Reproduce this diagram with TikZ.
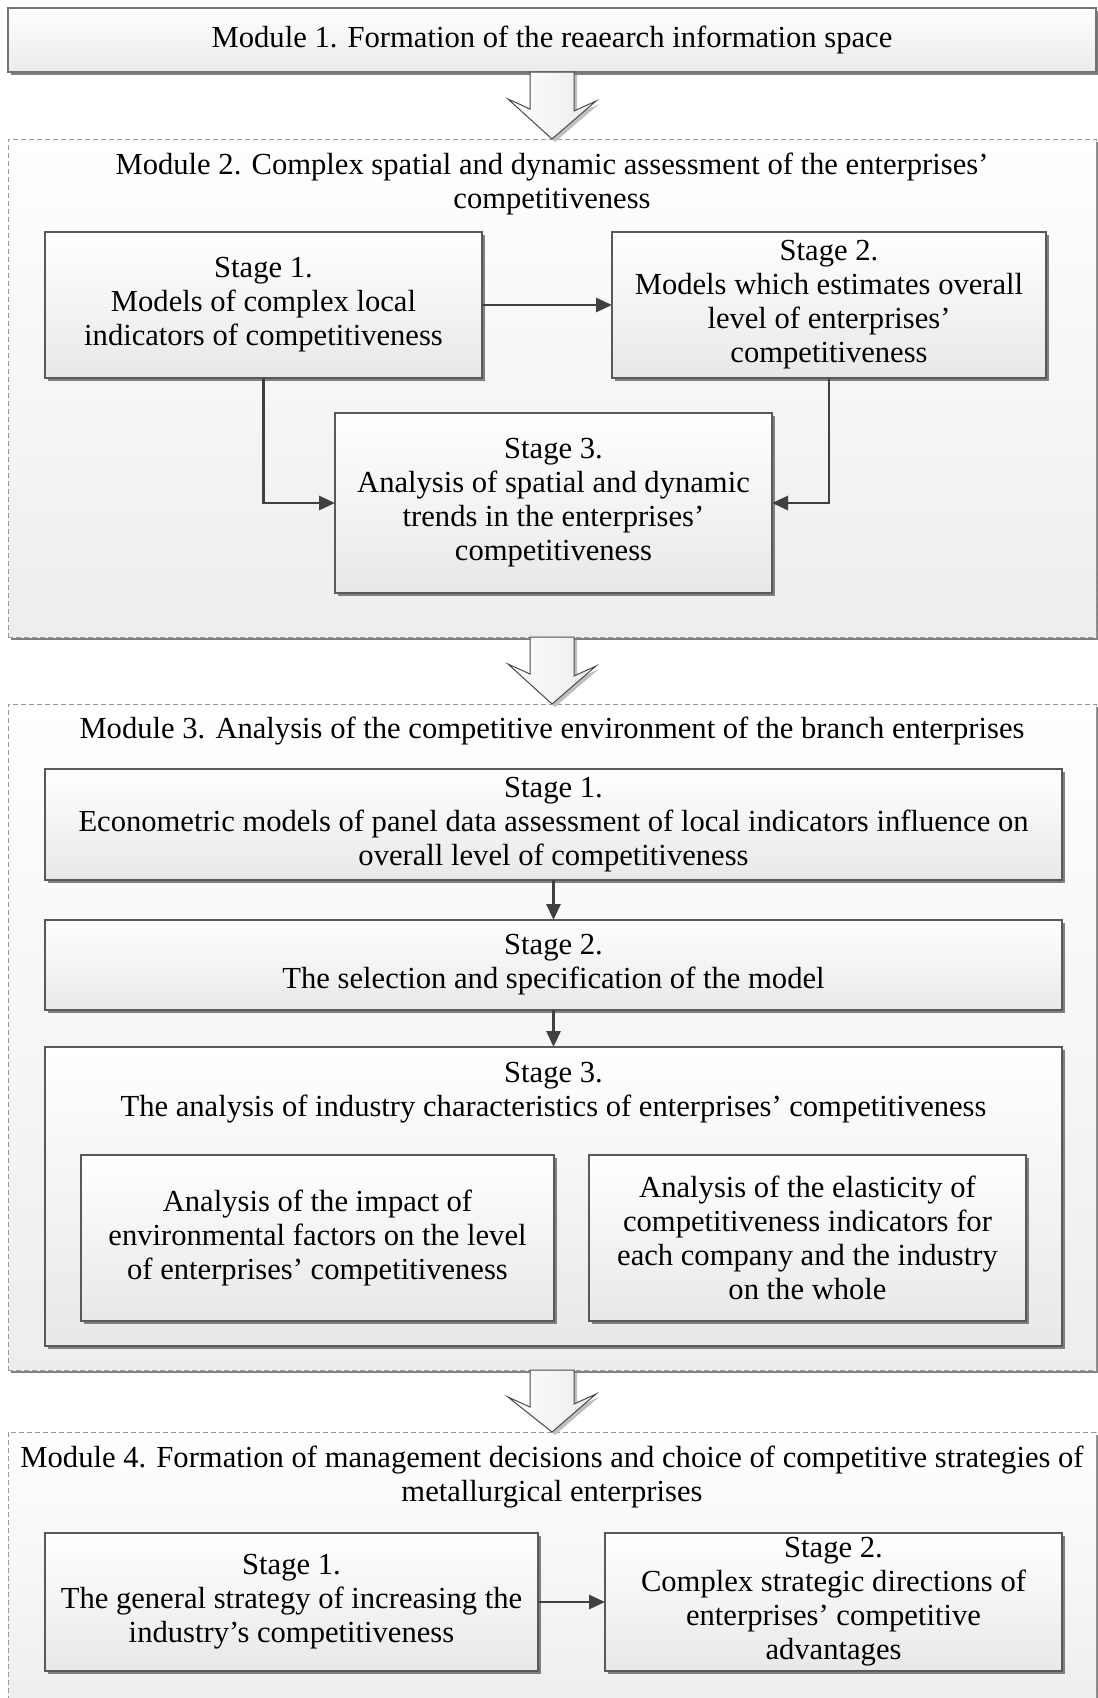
\documentclass[tikz,border=0pt]{standalone}
\usepackage{fontspec}
\setmainfont{Liberation Serif}
\usetikzlibrary{arrows.meta}
\usetikzlibrary{shadows}
\usetikzlibrary{calc}

\begin{document}
\begin{tikzpicture}[x=1pt,y=-1pt,
	every node/.style={font=\fontsize{30.6}{34}\selectfont, align=center, inner sep=0pt, outer sep=0pt},
	boxshadow/.style={drop shadow={shadow xshift=3pt, shadow yshift=-3pt, fill=black!50, opacity=1}},
	modtop/.style={rectangle, draw=black!55, line width=1.2pt, top color=white, bottom color=black!8, boxshadow},
	modbox/.style={rectangle, draw=black!40, line width=1pt, dash pattern=on 5pt off 3pt, top color=white, bottom color=black!7, boxshadow},
	stagebox/.style={rectangle, draw=black!65, line width=1.3pt, top color=white, bottom color=black!9, boxshadow},
	conn/.style={draw=black!75, line width=2.8pt, -{Triangle[length=16pt,width=14pt]}},
	hollow/.style={draw=black!70, line width=1pt, left color=white, right color=black!8, drop shadow={shadow xshift=3pt, shadow yshift=-3pt, fill=black!25, opacity=1}}]
	\clip (0,0) rectangle (1098,1698);

	% modules
	\node[modtop, minimum width=1088pt, minimum height=64pt] (m1) at (552,40) {Module 1. Formation of the reaearch information space};
	\node[modbox, minimum width=1088pt, minimum height=498pt] (m2) at (552,388) {};
	\node[modbox, minimum width=1088pt, minimum height=666pt] (m3) at (552,1037) {};
	\node[modbox, minimum width=1088pt, minimum height=288pt] (m4) at (552,1576) {};

	\node (m2t) at (552,184) {Module 2. Complex spatial and dynamic assessment of the enterprises’\\competitiveness};
	\node (m3t) at (552,731) {Module 3. Analysis of the competitive environment of the branch enterprises};
	\node (m4t) at (552,1477) {Module 4. Formation of management decisions and choice of competitive strategies of\\metallurgical enterprises};

	% module 2
	\node[stagebox, minimum width=437pt, minimum height=146pt] (s21) at (263.5,305) {Stage 1.\\Models of complex local\\indicators of competitiveness};
	\node[stagebox, minimum width=434pt, minimum height=146pt] (s22) at (829,305) {Stage 2.\\Models which estimates overall\\level of enterprises’\\competitiveness};
	\node[stagebox, minimum width=437pt, minimum height=180pt] (s23) at (553.5,503) {Stage 3.\\Analysis of spatial and dynamic\\trends in the enterprises’\\competitiveness};
	\draw[conn] (s21.east) -- (s22.west);
	\draw[conn] (s21.south) |- (s23.west);
	\draw[conn] (s22.south) |- (s23.east);

	% module 3
	\node[stagebox, minimum width=1017pt, minimum height=111pt] (s31) at (553.5,824.5) {Stage 1.\\Econometric models of panel data assessment of local indicators influence on\\overall level of competitiveness};
	\node[stagebox, minimum width=1017pt, minimum height=90pt] (s32) at (553.5,965) {Stage 2.\\The selection and specification of the model};
	\node[stagebox, minimum width=1017pt, minimum height=299pt] (s33) at (553.5,1196.5) {};
	\node (s33t) at (553.5,1093) {Stage 3.\\The analysis of industry characteristics of enterprises’ competitiveness};
	\node[stagebox, minimum width=473pt, minimum height=166pt] (s33a) at (317.5,1238) {Analysis of the impact of\\environmental factors on the level\\of enterprises’ competitiveness};
	\node[stagebox, minimum width=437pt, minimum height=166pt] (s33b) at (807.5,1238) {Analysis of the elasticity of\\competitiveness indicators for\\each company and the industry\\on the whole};
	\draw[conn] (s31.south) -- (s32.north);
	\draw[conn] (s32.south) -- (s33.north);

	% module 4
	\node[stagebox, minimum width=493pt, minimum height=138pt] (s41) at (291.5,1602) {Stage 1.\\The general strategy of increasing the\\industry’s competitiveness};
	\node[stagebox, minimum width=457pt, minimum height=138pt] (s42) at (833.5,1602) {Stage 2.\\Complex strategic directions of\\enterprises’ competitive\\advantages};
	\draw[conn] (s41.east) -- (s42.west);

	% arrows between modules
	\foreach \a/\b in {m1/m2, m2/m3, m3/m4}
		\draw[hollow] ($(\a.south)+(-22,0)$) -- ++(0,37) -- ++(-22,-10) -- (\b.north) -- ++(44,-38) -- ++(-22,10) -- ($(\a.south)+(22,0)$) -- cycle;
\end{tikzpicture}
\end{document}
